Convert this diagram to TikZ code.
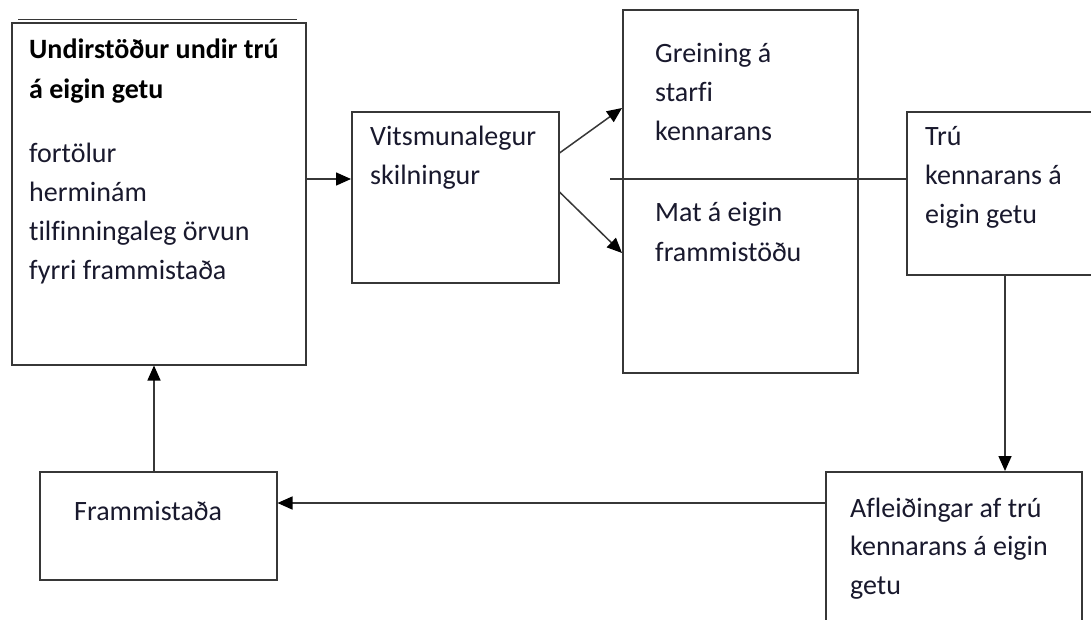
\documentclass[tikz,border=0pt]{standalone}
\usepackage{fontspec}
\setmainfont{Carlito}[Ligatures=NoCommon]
\usetikzlibrary{arrows.meta}
\definecolor{txt}{RGB}{25,25,45}
\definecolor{edge}{RGB}{55,55,55}
\tikzset{
  box/.style={draw=edge, line width=1.5pt, rectangle, inner sep=0pt, anchor=north west},
  lbl/.style={anchor=base west, inner sep=0pt, text=txt, font=\fontsize{28}{39}\selectfont},
  blbl/.style={lbl, text=black, font=\fontsize{28}{39}\selectfont\bfseries},
  arr/.style={draw=edge, line width=1.5pt, -{Triangle[length=15pt,width=13pt,color=black]}},
  conn/.style={draw=edge, line width=1.5pt},
}
\begin{document}
\begin{tikzpicture}[x=1pt,y=-1pt]
\clip (0,0) rectangle (1091,619);
\fill[white] (0,0) rectangle (1091,619);
% boxes
\node[box, minimum width=294pt, minimum height=342pt] (A) at (11,22) {};
\draw[draw=edge, line width=1pt] (18,19.5) -- (297,19.5);
\node[box, minimum width=207pt, minimum height=171pt] (B) at (351,111) {};
\node[box, minimum width=235pt, minimum height=363pt] (C) at (622,9) {};
\node[box, minimum width=220pt, minimum height=163pt] (D) at (906,111) {};
\node[box, minimum width=256pt, minimum height=170pt] (E) at (825,471) {};
\node[box, minimum width=237pt, minimum height=108pt] (F) at (39,471) {};
% texts
\node[blbl] (a1) at (29,58) {Undirstöður undir trú};
\node[blbl] (a2) at (29,98) {á eigin getu};
\node[lbl] (a3) at (29,162) {fortölur};
\node[lbl] (a4) at (29,201) {herminám};
\node[lbl] (a5) at (29,240) {tilfinningaleg örvun};
\node[lbl] (a6) at (29,279) {fyrri frammistaða};
\node[lbl] (b1) at (370,145) {Vitsmunalegur};
\node[lbl] (b2) at (370,184) {skilningur};
\node[lbl] (c1) at (655,62) {Greining á};
\node[lbl] (c2) at (655,101) {starfi};
\node[lbl] (c3) at (655,140) {kennarans};
\node[lbl] (c4) at (655,221) {Mat á eigin};
\node[lbl] (c5) at (655,261) {frammistöðu};
\node[lbl] (d1) at (925,145) {Trú};
\node[lbl] (d2) at (925,184) {kennarans á};
\node[lbl] (d3) at (925,223) {eigin getu};
\node[lbl] (e1) at (850,517) {Afleiðingar af trú};
\node[lbl] (e2) at (850,555) {kennarans á eigin};
\node[lbl] (e3) at (850,594) {getu};
\node[lbl] (f1) at (74,520) {Frammistaða};
% connectors
\coordinate (ab) at (0,179);
\draw[arr] (A.east |- ab) -- (B.west |- ab);
\coordinate (bu) at (0,153);
\coordinate (cu) at (0,108);
\coordinate (bl) at (0,192);
\coordinate (cl) at (0,253);
\draw[arr] (B.east |- bu) -- (C.west |- cu);
\draw[arr] (B.east |- bl) -- (C.west |- cl);
\coordinate (s) at (610,179);
\draw[conn] (s) -- (D.west |- s);
\coordinate (de) at (1005,0);
\draw[arr] (D.south -| de) -- (E.north -| de);
\coordinate (ef) at (0,503);
\draw[arr] (E.west |- ef) -- (F.east |- ef);
\coordinate (fa) at (154,0);
\draw[arr] (F.north -| fa) -- (A.south -| fa);
\end{tikzpicture}
\end{document}
